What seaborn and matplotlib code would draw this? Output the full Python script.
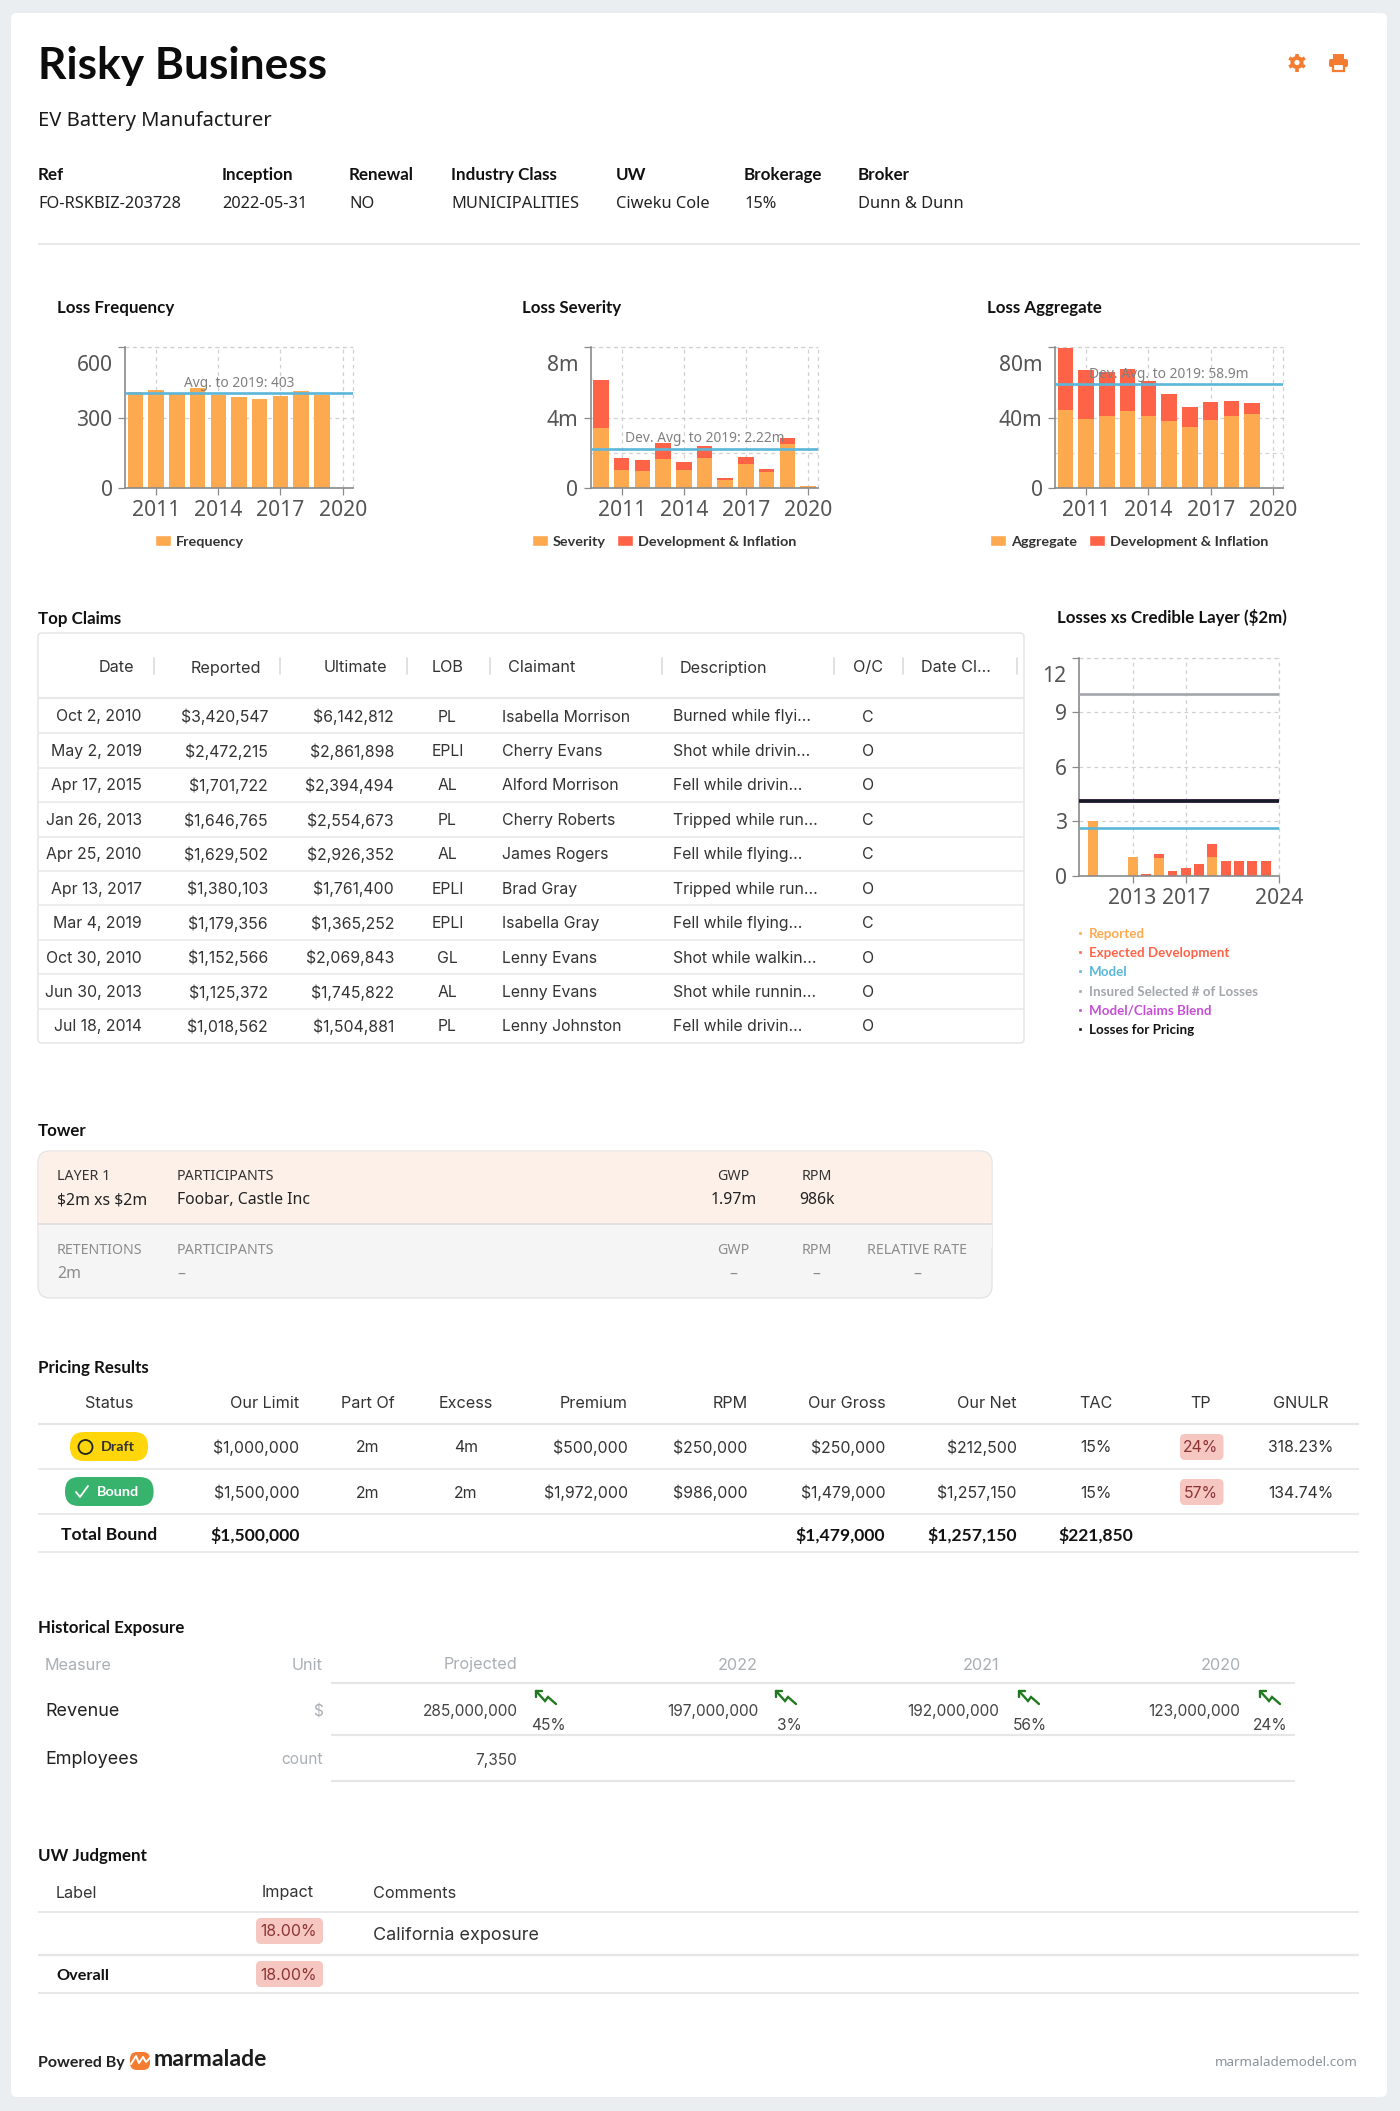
import numpy as np
import pandas as pd
import seaborn as sns
import matplotlib.pyplot as plt
from matplotlib.patches import FancyBboxPatch, Rectangle, Circle
from matplotlib.transforms import ScaledTranslation

W, H = 1400, 2111

ORANGE = '#fda94f'
RED = '#ff6347'
BLUE = '#5ab7d9'
GRAY_LINE = '#a3a6ab'
PURPLE = '#c64fd6'
BLACK_LINE = '#161b26'
ACCENT = '#f47c30'

# loss charts
years = [2010, 2011, 2012, 2013, 2014, 2015, 2016, 2017, 2018, 2019, 2020]
frequency = [408, 416, 403, 425, 396, 387, 377, 391, 413, 397, 0]
severity = [3.42, 1.0, 0.96, 1.63, 1.0, 1.70, 0.47, 1.38, 0.91, 2.48, 0.09]
severity_dev = [2.69, 0.68, 0.61, 0.90, 0.47, 0.66, 0.08, 0.36, 0.17, 0.36, 0.01]
aggregate = [44.4, 39.3, 40.6, 43.5, 41.0, 38.2, 34.6, 38.6, 40.8, 41.8, 0]
aggregate_dev = [35.2, 27.8, 25.4, 24.0, 19.5, 15.1, 11.5, 10.4, 8.7, 6.4, 0]
frequency_avg = 403
severity_avg = 2.22
aggregate_avg = 58.9

# losses xs layer
xs_years = [2010, 2011, 2012, 2013, 2014, 2015, 2016, 2017, 2018, 2019, 2020, 2021, 2022, 2023]
xs_reported = [3.0, 0, 0, 1.03, 0, 1.0, 0, 0, 0, 1.03, 0, 0, 0, 0]
xs_dev = [0, 0, 0, 0, 0.09, 0.17, 0.27, 0.44, 0.62, 0.73, 0.83, 0.83, 0.83, 0.83]
xs_model = 2.62
xs_insured = 10.0
xs_blend = 4.11
xs_pricing = 4.11
xs_legend = ['Reported', 'Expected Development', 'Model', 'Insured Selected # of Losses',
             'Model/Claims Blend', 'Losses for Pricing']

# header
info_labels = ['Ref', 'Inception', 'Renewal', 'Industry Class', 'UW', 'Brokerage', 'Broker']
info_values = ['FO-RSKBIZ-203728', '2022-05-31', 'NO', 'MUNICIPALITIES', 'Ciweku Cole', '15%', 'Dunn & Dunn']

# top claims
claim_cols = ['Date', 'Reported', 'Ultimate', 'LOB', 'Claimant', 'Description', 'O/C', 'Date Cl...']
claim_dates = ['Oct 2, 2010', 'May 2, 2019', 'Apr 17, 2015', 'Jan 26, 2013', 'Apr 25, 2010',
               'Apr 13, 2017', 'Mar 4, 2019', 'Oct 30, 2010', 'Jun 30, 2013', 'Jul 18, 2014']
claim_reported = ['$3,420,547', '$2,472,215', '$1,701,722', '$1,646,765', '$1,629,502',
                  '$1,380,103', '$1,179,356', '$1,152,566', '$1,125,372', '$1,018,562']
claim_ultimate = ['$6,142,812', '$2,861,898', '$2,394,494', '$2,554,673', '$2,926,352',
                  '$1,761,400', '$1,365,252', '$2,069,843', '$1,745,822', '$1,504,881']
claim_lob = ['PL', 'EPLI', 'AL', 'PL', 'AL', 'EPLI', 'EPLI', 'GL', 'AL', 'PL']
claimants = ['Isabella Morrison', 'Cherry Evans', 'Alford Morrison', 'Cherry Roberts', 'James Rogers',
             'Brad Gray', 'Isabella Gray', 'Lenny Evans', 'Lenny Evans', 'Lenny Johnston']
claim_desc = ['Burned while flyi...', 'Shot while drivin...', 'Fell while drivin...', 'Tripped while run...',
              'Fell while flying...', 'Tripped while run...', 'Fell while flying...', 'Shot while walkin...',
              'Shot while runnin...', 'Fell while drivin...']
claim_oc = ['C', 'O', 'O', 'C', 'C', 'O', 'C', 'O', 'O', 'O']

# pricing
pricing_cols = ['Status', 'Our Limit', 'Part Of', 'Excess', 'Premium', 'RPM', 'Our Gross', 'Our Net', 'TAC', 'TP', 'GNULR']
pricing_draft = ['Draft', '$1,000,000', '2m', '4m', '$500,000', '$250,000', '$250,000', '$212,500', '15%', '24%', '318.23%']
pricing_bound = ['Bound', '$1,500,000', '2m', '2m', '$1,972,000', '$986,000', '$1,479,000', '$1,257,150', '15%', '57%', '134.74%']
pricing_total = ['Total Bound', '$1,500,000', '', '', '', '', '$1,479,000', '$1,257,150', '$221,850', '', '']

# exposure
exposure_cols = ['Projected', '2022', '2021', '2020']
revenue = ['285,000,000', '197,000,000', '192,000,000', '123,000,000']
revenue_growth = ['45%', '3%', '56%', '24%']

sns.set_theme(style='white')
plt.rcParams['font.family'] = ['Noto Sans', 'DejaVu Sans']
plt.rcParams['text.parse_math'] = False

fig = plt.figure(figsize=(W / 100, H / 100), dpi=100, facecolor='#ebeef1')
bg = fig.add_axes([0, 0, 1, 1])
bg.set_xlim(0, W)
bg.set_ylim(H, 0)
bg.axis('off')


def txt(x, y, s, px=15, color='#2b2b2b', ha='left', bold=False, family='Inter'):
    # variable fonts only give a regular weight, Lato has a real bold
    if bold:
        family = 'Lato'
    weight = 'bold' if bold else 'normal'
    return bg.text(x, y + 1, s, fontsize=px * 0.72, color=color, ha=ha, va='center',
                   fontweight=weight, family=[family, 'DejaVu Sans'], zorder=3)


def hline(y, x0=38, x1=1359, color='#e4e6e8', lw=1.4):
    bg.plot([x0, x1], [y, y], color=color, lw=lw, solid_capstyle='butt')


def rbox(x0, y0, x1, y1, color, r=5, ec='none', lw=0, z=1):
    bg.add_patch(FancyBboxPatch((x0 + r, y0 + r), x1 - x0 - 2 * r, y1 - y0 - 2 * r,
                                boxstyle=f'round,pad={r},rounding_size={r}', fc=color, ec=ec, lw=lw, zorder=z))


def section(x, y, s):
    txt(x, y, s, px=16.9, color='#111111', bold=True)


def axes_px(left, top, right, bottom):
    return fig.add_axes([left / W, 1 - bottom / H, (right - left) / W, (bottom - top) / H])


def style_chart(ax, xticks, xlim, yticks, ylabels, extra_y=()):
    ax.set_xlim(*xlim)
    ax.set_ylim(0, yticks[-1])
    ax.set_xticks(xticks)
    ax.set_xticklabels([str(v) for v in xticks])
    ax.set_yticks(yticks)
    ax.set_yticklabels(ylabels)
    ax.set_xlabel('')
    ax.set_ylabel('')
    ax.set_axisbelow(True)
    ax.grid(True, color='#d0d0d0', linestyle=(0, (3, 3)), linewidth=0.9)
    for v in extra_y:
        ax.axhline(v, color='#d0d0d0', linestyle=(0, (3, 3)), linewidth=0.9, zorder=0)
    ax.axvline(xlim[1], color='#d0d0d0', linestyle=(0, (3, 3)), linewidth=0.9, zorder=0, clip_on=False)
    ax.axhline(yticks[-1], color='#d0d0d0', linestyle=(0, (3, 3)), linewidth=0.9, zorder=0, clip_on=False)
    sns.despine(ax=ax)
    for side in ['left', 'bottom']:
        ax.spines[side].set_color('#8a8a8a')
        ax.spines[side].set_linewidth(1.2)
    ax.tick_params(axis='both', bottom=True, left=True, length=5, width=0.9, color='#8a8a8a',
                   labelsize=15.2, labelcolor='#555555', pad=4)
    # top label sits below its tick
    top = ax.yaxis.get_major_ticks()[-1].label1
    top.set_transform(top.get_transform() + ScaledTranslation(0, -0.16, fig.dpi_scale_trans))


def stacked_bars(ax, x, base, top):
    df = pd.DataFrame({'year': x, 'base': base, 'total': np.array(base) + np.array(top)})
    sns.barplot(data=df, x='year', y='total', native_scale=True, width=0.75, color=RED,
                saturation=1, linewidth=0, ax=ax)
    sns.barplot(data=df, x='year', y='base', native_scale=True, width=0.75, color=ORANGE,
                saturation=1, linewidth=0, ax=ax)


def avg_label(ax, value, s):
    ax.axhline(value, color=BLUE, lw=1.9, zorder=5)
    ax.annotate(s, xy=(0.5, value), xycoords=('axes fraction', 'data'), xytext=(0, 7.2),
                textcoords='offset points', ha='center', va='center', fontsize=9.9,
                color='#808080', zorder=6, annotation_clip=False)


# card
rbox(11, 13, 1387, 2097, 'white', r=6, z=0)

# header
txt(38, 64.5, 'Risky Business', px=44.3, color='#0c0c0c', bold=True)
txt(38, 120, 'EV Battery Manufacturer', px=20.2, color='#1a1a1a', family='Noto Sans')
info_x = [38, 222, 349, 451, 616, 744, 858]
for x, a, b in zip(info_x, info_labels, info_values):
    txt(x, 174, a, px=17, color='#111111', bold=True)
    txt(x, 203, b, px=16.4, color='#222222', family='Noto Sans')
hline(244, 38, 1360, '#e3e5e8', 1.2)

# icons
bg.add_patch(Circle((1297, 62.5), 4.6, fc='none', ec=ACCENT, lw=2.8))
for a in np.deg2rad(np.arange(0, 360, 60) + 30):
    bg.plot([1297 + 6 * np.cos(a), 1297 + 9 * np.cos(a)], [62.5 + 6 * np.sin(a), 62.5 + 9 * np.sin(a)],
            color=ACCENT, lw=2.6, solid_capstyle='butt')
bg.add_patch(Rectangle((1333, 54), 11, 5, fc=ACCENT, ec='none'))
rbox(1329, 59, 1348, 67, ACCENT, r=2)
bg.add_patch(Rectangle((1333, 64), 11, 7, fc='white', ec=ACCENT, lw=1.6, zorder=3))

# loss frequency
section(57, 307, 'Loss Frequency')
ax = axes_px(125, 347, 353, 488)
sns.barplot(x=years, y=frequency, native_scale=True, width=0.75, color=ORANGE, saturation=1, linewidth=0, ax=ax)
style_chart(ax, [2011, 2014, 2017, 2020], (2009.5, 2020.5), [0, 300, 600], ['0', '300', '600'])
avg_label(ax, frequency_avg, f'Avg. to 2019: {frequency_avg}')
bg.add_patch(Rectangle((155, 535), 16, 11, fc=ORANGE))
txt(176, 541, 'Frequency', px=14.4, color='#333333', bold=True)

# loss severity
section(522, 307, 'Loss Severity')
ax = axes_px(590.7, 347, 818.3, 488)
stacked_bars(ax, years, severity, severity_dev)
style_chart(ax, [2011, 2014, 2017, 2020], (2009.5, 2020.5), [0, 4, 8], ['0', '4m', '8m'], extra_y=[2])
avg_label(ax, severity_avg, f'Dev. Avg. to 2019: {severity_avg}m')
bg.add_patch(Rectangle((532, 535), 16, 11, fc=ORANGE))
txt(553, 541, 'Severity', px=14.4, color='#333333', bold=True)
bg.add_patch(Rectangle((617, 535), 16, 11, fc=RED))
txt(638, 541, 'Development & Inflation', px=14.4, color='#333333', bold=True)

# loss aggregate
section(987, 307, 'Loss Aggregate')
ax = axes_px(1055, 347, 1283.3, 488)
stacked_bars(ax, years, aggregate, aggregate_dev)
style_chart(ax, [2011, 2014, 2017, 2020], (2009.5, 2020.5), [0, 40, 80], ['0', '40m', '80m'], extra_y=[20])
avg_label(ax, aggregate_avg, f'Dev. Avg. to 2019: {aggregate_avg}m')
bg.add_patch(Rectangle((990, 535), 16, 11, fc=ORANGE))
txt(1011, 541, 'Aggregate', px=14.4, color='#333333', bold=True)
bg.add_patch(Rectangle((1089, 535), 16, 11, fc=RED))
txt(1110, 541, 'Development & Inflation', px=14.4, color='#333333', bold=True)

# top claims table
section(38, 618, 'Top Claims')
rbox(38, 633, 1024, 1043, 'white', r=4, ec='#e3e5e7', lw=1.1)
for x in [154, 279.6, 406.5, 490, 661.5, 834, 903, 1017]:
    bg.plot([x, x], [658, 674], color='#dcdfe2', lw=1.3)
head_x = [134.5, 261, 387, 447.5, 508, 680, 868, 921]
head_ha = ['right', 'right', 'right', 'center', 'left', 'left', 'center', 'left']
for x, ha, s in zip(head_x, head_ha, claim_cols):
    txt(x, 667, s, px=16.2, color='#333333', ha=ha)
hline(698, 38, 1024, '#e6e8ea', 1.6)
cell_x = [141.7, 268, 394, 447.5, 501.5, 673, 868]
cell_ha = ['right', 'right', 'right', 'center', 'left', 'left', 'center']
claim_data = [claim_dates, claim_reported, claim_ultimate, claim_lob, claimants, claim_desc, claim_oc]
for i in range(10):
    y = 716 + i * 34.44
    for x, ha, col in zip(cell_x, cell_ha, claim_data):
        txt(x, y, col[i], px=15.8, color='#333333', ha=ha)
    if i < 9:
        hline(y + 17.2, 38, 1024, '#e6e8ea', 1.1)

# losses xs credible layer
section(1057, 617, 'Losses xs Credible Layer ($2m)')
ax = axes_px(1079.3, 657.7, 1279, 875.7)
stacked_bars(ax, xs_years, xs_reported, xs_dev)
style_chart(ax, [2013, 2017, 2024], (2009, 2024), [0, 3, 6, 9, 12], ['0', '3', '6', '9', '12'])
ax.axhline(xs_insured, color=GRAY_LINE, lw=1.9, zorder=5)
ax.axhline(xs_blend, color=PURPLE, lw=2.6, zorder=5)
ax.axhline(xs_pricing, color=BLACK_LINE, lw=2.6, zorder=6)
ax.axhline(xs_model, color=BLUE, lw=1.9, zorder=5)
legend_colors = [ORANGE, RED, BLUE, GRAY_LINE, PURPLE, '#111111']
legend_y = [932.7, 952.3, 971.3, 990.7, 1009.7, 1029.3]
for y, c, s in zip(legend_y, legend_colors, xs_legend):
    bg.add_patch(Rectangle((1078, y - 2), 4, 4, fc=c))
    txt(1089, y, s, px=13.4, color=c, bold=True)

# tower
section(38, 1130, 'Tower')
rbox(38, 1151, 992, 1298, '#f5f5f5', r=12, ec='#e4e4e4', lw=1)
rbox(38.5, 1151.5, 991.5, 1245, '#fdf0e9', r=12, z=1.1)
bg.add_patch(Rectangle((38.5, 1224), 953, 24, fc='#f5f5f5', ec='none', zorder=1.2))
bg.plot([38, 992], [1224, 1224], color='#dcdcdc', lw=1.1, zorder=1.3)
top_x = [(57, 'left'), (177, 'left'), (733.6, 'center'), (816.6, 'center')]
top_head = ['LAYER 1', 'PARTICIPANTS', 'GWP', 'RPM']
top_vals = ['$2m xs $2m', 'Foobar, Castle Inc', '1.97m', '986k']
for (x, ha), a, b in zip(top_x, top_head, top_vals):
    txt(x, 1176, a, px=14.2, color='#333333', ha=ha, family='Noto Sans')
    txt(x, 1199, b, px=15.8, color='#222222', ha=ha, family='Noto Sans')
low_x = top_x + [(917, 'center')]
low_head = ['RETENTIONS', 'PARTICIPANTS', 'GWP', 'RPM', 'RELATIVE RATE']
low_vals = ['2m', '–', '–', '–', '–']
for (x, ha), a, b in zip(low_x, low_head, low_vals):
    txt(x, 1249, a, px=14.2, color='#8c8c8c', ha=ha, family='Noto Sans')
    txt(x, 1273, b, px=15.8, color='#8c8c8c', ha=ha, family='Noto Sans')

# pricing results
section(38, 1367, 'Pricing Results')
price_x = [109, 299.5, 367.6, 466, 628, 747.5, 885.5, 1017, 1096, 1201, 1301]
price_ha = ['center', 'right', 'center', 'center', 'right', 'right', 'right', 'right', 'center', 'center', 'center']
for x, ha, s in zip(price_x, price_ha, pricing_cols):
    txt(x, 1403, s, px=16.2, color='#333333', ha=ha)
hline(1424, lw=1.6)
hline(1469, lw=1.2)
hline(1514, lw=1.2)
hline(1552, lw=1.2)
for row, y in [(pricing_draft, 1448), (pricing_bound, 1493)]:
    for j in range(1, 11):
        c = '#8c3434' if j == 9 else '#333333'
        if j == 9:
            rbox(1180, y - 14, 1223.5, y + 12, '#f6c6c1', r=5)
        txt(price_x[j], y - 1, row[j], px=15.8, color=c, ha=price_ha[j])
for j, s in enumerate(pricing_total):
    if s:
        txt(price_x[j], 1534, s, px=17.5, color='#111111', ha=price_ha[j], bold=True)
rbox(70, 1432, 148, 1461, '#ffd60a', r=14)
bg.add_patch(Circle((85.5, 1447), 7, fc='none', ec='#222222', lw=1.3, zorder=3))
txt(101, 1446, pricing_draft[0], px=14.4, color='#333333', bold=True)
rbox(65, 1477, 153.6, 1506, '#38b36d', r=14)
bg.plot([76, 80, 88], [1492, 1497, 1486], color='white', lw=1.3, zorder=3)
txt(97, 1491, pricing_bound[0], px=14.4, color='white', bold=True)

# historical exposure
section(38, 1627, 'Historical Exposure')
exp_x = [517.5, 758, 999, 1240.6]
pct_x = [531, 777, 1012.5, 1253]
icon_x = [536, 776, 1019, 1260]
txt(45, 1664, 'Measure', px=16.2, color='#a9afb4')
txt(322.6, 1664, 'Unit', px=16.2, color='#a9afb4', ha='right')
for x, s in zip(exp_x, exposure_cols):
    txt(x, 1664, s, px=16.2, color='#a9afb4', ha='right')
hline(1683.3, 331, 1294.5, lw=1.5)
hline(1735, 331, 1294.5, lw=1.5)
hline(1781, 331, 1294.5, lw=1.5)
txt(45, 1710.7, 'Revenue', px=18, color='#222222')
txt(322.6, 1710.7, '$', px=15.5, color='#a9afb4', ha='right')
txt(45, 1759, 'Employees', px=18, color='#222222')
txt(322.6, 1759, 'count', px=15.5, color='#a9afb4', ha='right')
txt(517.5, 1759, '7,350', px=15.5, color='#444444', ha='right')
for x, s, p, px_, ix in zip(exp_x, revenue, revenue_growth, pct_x, icon_x):
    txt(x, 1710.7, s, px=15.5, color='#444444', ha='right')
    txt(px_, 1725, p, px=15.5, color='#444444')
    zx = np.array([0, 9, 12, 20]) + ix
    zy = np.array([0, 10, 6, 13]) + 1691
    bg.plot(zx, zy, color='#1f7a1f', lw=1.7, solid_joinstyle='miter')
    bg.plot([ix, ix, ix + 6], [1697, 1691, 1691], color='#1f7a1f', lw=1.7)

# uw judgment
section(38, 1855, 'UW Judgment')
txt(56, 1892, 'Label', px=16.2, color='#333333')
txt(288, 1892, 'Impact', px=16.2, color='#333333', ha='center')
txt(373, 1892, 'Comments', px=16.2, color='#333333')
hline(1912, lw=1.3)
hline(1955, lw=1.7)
hline(1993, lw=1.3)
rbox(256, 1918, 323, 1944, '#f6c6c1', r=5)
txt(288.5, 1931, '18.00%', px=15.8, color='#8c3434', ha='center')
txt(373, 1935, 'California exposure', px=18, color='#333333')
txt(56, 1975, 'Overall', px=16.2, color='#111111', bold=True)
rbox(256, 1961, 323, 1987, '#f6c6c1', r=5)
txt(288.5, 1974, '18.00%', px=15.8, color='#8c3434', ha='center')

# footer
txt(38, 2062, 'Powered By', px=16, color='#222222', bold=True)
rbox(130, 2052, 150, 2070, ACCENT, r=7)
bg.plot([131, 136, 139, 143, 146, 150], [2064, 2056, 2063, 2057, 2062, 2058], color='white', lw=1.4, zorder=3)
txt(154, 2059, 'marmalade', px=23, color='#1c1c1c', bold=True)
txt(1358, 2062, 'marmalademodel.com', px=13.4, color='#8b939a', ha='right', family='Noto Sans')

fig.savefig('out.png', dpi=100, facecolor=fig.get_facecolor())
